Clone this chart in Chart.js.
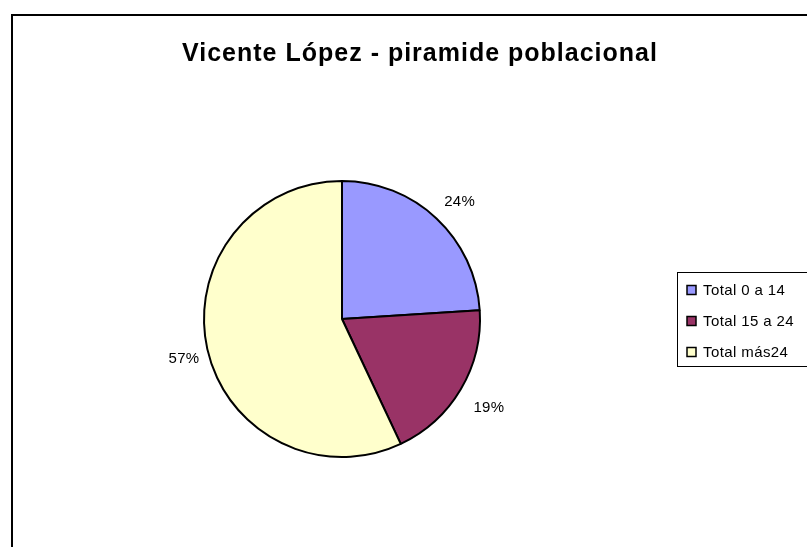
<!DOCTYPE html>
<html lang="es">
<head>
<meta charset="UTF-8">
<title>Vicente López - piramide poblacional</title>
<script src="https://cdn.jsdelivr.net/npm/chart.js"></script>
<style>
  html, body { margin: 0; padding: 0; background: #fff; }
  #wrap { width: 807px; height: 547px; }
</style>
</head>
<body>
<div id="wrap"><canvas id="pie"></canvas></div>
<script>
// data
const chartTitle = 'Vicente López - piramide poblacional';
const categories = ['Total 0 a 14', 'Total 15 a 24', 'Total más24'];
const shares = [24, 19, 57];
const sliceColors = ['#9999FF', '#993366', '#FFFFCC'];

// frame, title, outside labels and legend box
const decor = {
  id: 'decor',
  beforeDraw(chart) {
    const c = chart.ctx;
    c.save();
    c.strokeStyle = '#000';
    c.lineWidth = 2;
    c.strokeRect(12, 15, 900, 600);
    c.fillStyle = '#000';
    c.font = 'bold 25px "Liberation Sans", Arial, sans-serif';
    c.letterSpacing = '1px';
    c.textAlign = 'center';
    c.textBaseline = 'alphabetic';
    c.fillText(chartTitle, 420, 61);
    c.restore();
  },
  afterDraw(chart) {
    const c = chart.ctx;
    const total = shares.reduce((a, b) => a + b, 0);
    c.save();
    c.font = '15px "Liberation Sans", Arial, sans-serif';
    c.letterSpacing = '0.3px';
    c.fillStyle = '#000';
    c.textAlign = 'center';
    c.textBaseline = 'middle';
    chart.getDatasetMeta(0).data.forEach((arc, i) => {
      const p = arc.getProps(['x', 'y', 'startAngle', 'endAngle', 'outerRadius'], true);
      const mid = (p.startAngle + p.endAngle) / 2;
      const r = p.outerRadius + 28;
      const pct = Math.round(shares[i] / total * 100) + '%';
      c.fillText(pct, p.x + 4 + Math.cos(mid) * r, p.y + 4 + Math.sin(mid) * r);
    });

    // legend
    c.strokeStyle = '#000';
    c.lineWidth = 1;
    c.strokeRect(677.5, 272.5, 200, 94);
    c.textAlign = 'left';
    c.font = '15px "Liberation Sans", Arial, sans-serif';
    c.letterSpacing = '0.4px';
    categories.forEach((name, i) => {
      const y = 290 + i * 31;
      c.fillStyle = sliceColors[i];
      c.fillRect(687, y - 4.5, 9, 9);
      c.strokeStyle = '#000';
      c.lineWidth = 1.5;
      c.strokeRect(687, y - 4.5, 9, 9);
      c.fillStyle = '#000';
      c.fillText(name, 703, y + 1);
    });
    c.restore();
  }
};

new Chart(document.getElementById('pie'), {
  type: 'pie',
  data: {
    labels: categories,
    datasets: [{
      data: shares,
      backgroundColor: sliceColors,
      borderColor: '#000',
      borderWidth: 2
    }]
  },
  options: {
    responsive: true,
    maintainAspectRatio: false,
    animation: false,
    layout: { padding: { left: 203, right: 326, top: 180, bottom: 89 } },
    plugins: {
      legend: { display: false },
      title: { display: false },
      tooltip: { enabled: false }
    }
  },
  plugins: [decor]
});
</script>
</body>
</html>
